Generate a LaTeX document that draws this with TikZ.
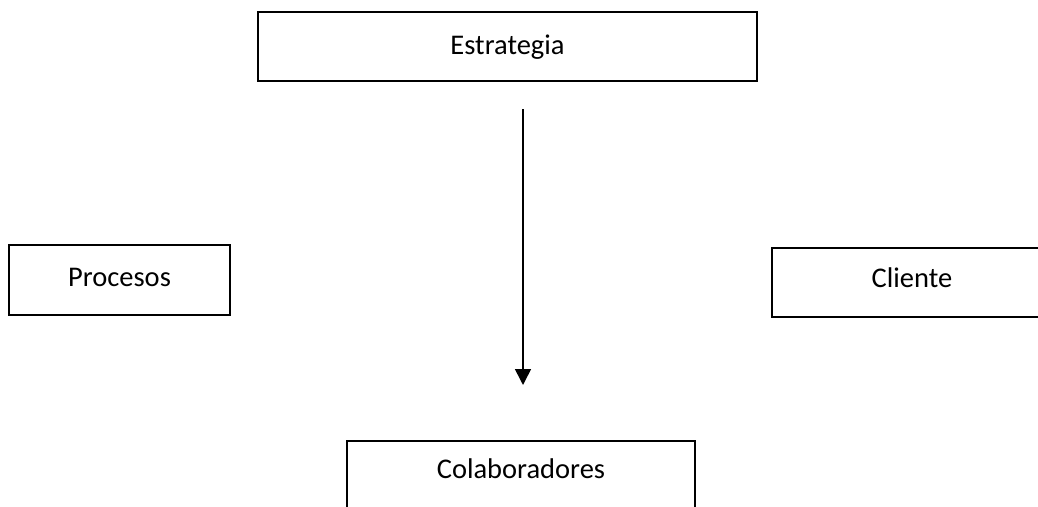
\documentclass[tikz,border=0pt]{standalone}
\usepackage{fontspec}
\setmainfont{Carlito}
\usetikzlibrary{arrows.meta}
\begin{document}
\begin{tikzpicture}[x=1pt,y=-1pt,
  box/.style={draw=black,line width=1.4pt,rectangle,inner sep=0pt},
  txt/.style={inner sep=0pt,anchor=base,font=\fontsize{28.5}{34}\selectfont},
  arr/.style={line width=1.6pt,-{Triangle[width=16pt,length=16pt]}}]
\useasboundingbox (0,0) rectangle (1038,506);
\clip (0,0) rectangle (1038,506);
\node[box,minimum width=499pt,minimum height=69pt] (estr) at (507.5,46.5) {};
\node[box,minimum width=221pt,minimum height=70pt] (proc) at (119.5,280) {};
\node[box,minimum width=280pt,minimum height=69pt] (cli) at (912,282.5) {};
\node[box,minimum width=348pt,minimum height=69pt] (col) at (521,475.5) {};
\node[txt] (testr) at (estr.center |- 0,54) {Estrategia};
\node[txt] (tproc) at (proc.center |- 0,286) {Procesos};
\node[txt] (tcli) at (cli.center |- 0,287) {Cliente};
\node[txt] (tcol) at (col.center |- 0,478) {Colaboradores};
\coordinate (s) at (523,109);
\coordinate (e) at (523,385);
\draw[arr] (s) -- (e);
\end{tikzpicture}
\end{document}
